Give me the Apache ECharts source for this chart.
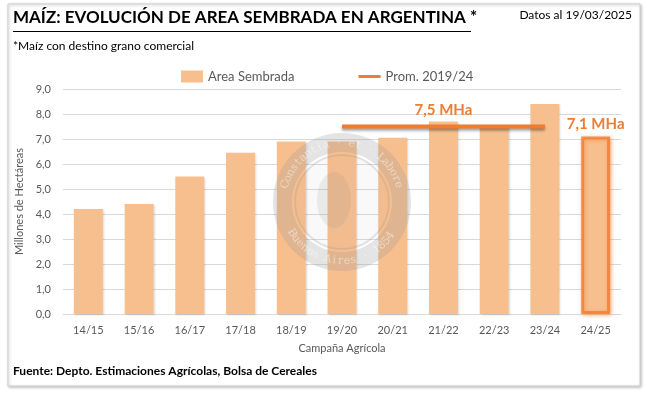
<!DOCTYPE html>
<html>
<head>
<meta charset="utf-8">
<script src="https://cdn.jsdelivr.net/npm/echarts@6/dist/echarts.min.js"></script>
<style>
  html, body { margin: 0; padding: 0; background: #fff; }
  #chart { width: 657px; height: 397px; }
</style>
</head>
<body>
<div id="chart"></div>
<script>
const campaigns = ["14/15", "15/16", "16/17", "17/18", "18/19", "19/20", "20/21", "21/22", "22/23", "23/24", "24/25"]
const areaSembrada = [4.2, 4.4, 5.5, 6.45, 6.9, 6.9, 7.05, 7.7, 7.5, 8.4, 7.1]
const promedio = [null, null, null, null, null, 7.5, 7.5, 7.5, 7.5, 7.5, null]
const yTicks = [0, 1, 2, 3, 4, 5, 6, 7, 8, 9]

const orange = "#ED7D31"
const barColor = "#F8BF8E"
const gray = "#595959"

const fmt = (v) => v.toFixed(1).replace(".", ",")

// watermark seal: ring letters placed round a circle
function sealText(text, cx, cy, r, startDeg, endDeg) {
  const chars = text.split("")
  const step = (endDeg - startDeg) / (chars.length - 1)
  return chars.map((ch, i) => {
    const a = (startDeg + step * i) * Math.PI / 180
    return {
      type: "text",
      z: 101,
      x: cx + r * Math.cos(a),
      y: cy + r * Math.sin(a),
      rotation: -(a + Math.PI / 2) + (startDeg > endDeg ? Math.PI : 0),
      silent: true,
      style: {
        text: ch,
        fill: "rgba(255,255,255,0.45)",
        font: "11px 'DejaVu Serif'",
        align: "center",
        verticalAlign: "middle"
      }
    }
  })
}

const chart = echarts.init(document.getElementById("chart"))
const cx = 342, cy = 202

const seal = [
  {
    type: "ring", z: 100, silent: true, shape: { cx: cx, cy: cy, r: 69, r0: 50 },
    style: { fill: "rgba(150,150,150,0.26)" }
  },
  {
    type: "circle", z: 100, silent: true, shape: { cx: cx, cy: cy, r: 47 },
    style: { fill: "rgba(150,150,150,0.06)", stroke: "rgba(150,150,150,0.26)", lineWidth: 2 }
  },
  {
    type: "ellipse", z: 100, silent: true, shape: { cx: cx - 8, cy: cy - 2, rx: 17, ry: 28 },
    style: { fill: "rgba(150,150,150,0.16)" }
  }
].concat(sealText("Constantia · et · Labore", cx, cy, 59, -163, -17))
 .concat(sealText("Buenos Aires · 1854", cx, cy, 59, 148, 35))

chart.setOption({
  animation: false,
  textStyle: { fontFamily: "Lato" },
  graphic: [
    {
      type: "rect", z: -10, silent: true,
      shape: { x: 8, y: 4, width: 632, height: 382 },
      style: { fill: "#fff", stroke: "#cfcfcf", lineWidth: 1, shadowBlur: 3, shadowColor: "rgba(0,0,0,0.25)", shadowOffsetX: 1, shadowOffsetY: 1 }
    },
    {
      type: "text", left: 13, top: 9,
      style: { text: "MAÍZ: EVOLUCIÓN DE AREA SEMBRADA EN ARGENTINA *", font: "bold 17px Lato", fill: "#000" }
    },
    {
      type: "rect", silent: true,
      shape: { x: 13, y: 31, width: 458, height: 1 },
      style: { fill: "#000" }
    },
    {
      type: "text", right: 25, top: 9,
      style: { text: "Datos al 19/03/2025", font: "12px Lato", fill: "#000" }
    },
    {
      type: "text", left: 13, top: 40,
      style: { text: "*Maíz con destino grano comercial", font: "12px Lato", fill: "#000" }
    },
    {
      type: "text", left: 13, top: 365,
      style: { text: "Fuente: Depto. Estimaciones Agrícolas, Bolsa de Cereales", font: "bold 12px Lato", fill: "#000" }
    }
  ].concat(seal),
  legend: {
    top: 65,
    left: 176,
    itemGap: 64,
    itemWidth: 22,
    itemHeight: 12,
    textStyle: { color: gray, fontSize: 13, fontFamily: "Lato" },
    data: [
      { name: "Area Sembrada", icon: "rect" },
      { name: "Prom. 2019/24", icon: "path://M0,0H22V3H0Z" }
    ]
  },
  grid: { left: 63, right: 36, top: 89, bottom: 83 },
  xAxis: {
    type: "category",
    data: campaigns,
    name: "Campaña Agrícola",
    nameLocation: "middle",
    nameGap: 29,
    nameTextStyle: { color: gray, fontSize: 11 },
    axisLine: { lineStyle: { color: "#d9d9d9" } },
    axisTick: { show: false },
    axisLabel: { color: gray, fontSize: 11, margin: 11 }
  },
  yAxis: {
    type: "value",
    min: yTicks[0],
    max: yTicks[yTicks.length - 1],
    interval: 1,
    name: "Millones de Hectáreas",
    nameLocation: "middle",
    nameGap: 35,
    nameTextStyle: { color: gray, fontSize: 11 },
    axisLine: { show: false },
    axisTick: { show: false },
    axisLabel: { color: gray, fontSize: 11, formatter: fmt, margin: 12 },
    splitLine: { lineStyle: { color: "#d9d9d9" } }
  },
  series: [
    {
      name: "Area Sembrada",
      type: "bar",
      barWidth: "57%",
      itemStyle: { color: barColor, shadowBlur: 2, shadowColor: "rgba(0,0,0,0.15)", shadowOffsetX: 1, shadowOffsetY: 1 },
      data: areaSembrada.map((v, i) => i === areaSembrada.length - 1
        ? {
            value: v,
            itemStyle: { borderColor: "rgba(237,125,49,0.8)", borderWidth: 3, shadowBlur: 4, shadowColor: "rgba(237,125,49,0.6)" },
            label: {
              show: true, position: "top", distance: 5,
              formatter: (p) => fmt(p.value) + " MHa",
              color: orange, fontSize: 15, fontWeight: "bold"
            }
          }
        : v)
    },
    {
      name: "Prom. 2019/24",
      type: "line",
      symbol: "none",
      color: orange,
      lineStyle: { color: orange, width: 4, shadowBlur: 3, shadowColor: "rgba(0,0,0,0.4)", shadowOffsetY: 2 },
      z: 5,
      data: promedio.map((v, i) => i === 7
        ? {
            value: v,
            symbol: "circle", symbolSize: 0.1,
            label: {
              show: true, position: "top", distance: 9,
              formatter: (p) => fmt(p.value) + " MHa",
              color: orange, fontSize: 15, fontWeight: "bold"
            }
          }
        : v)
    }
  ]
})
</script>
</body>
</html>
